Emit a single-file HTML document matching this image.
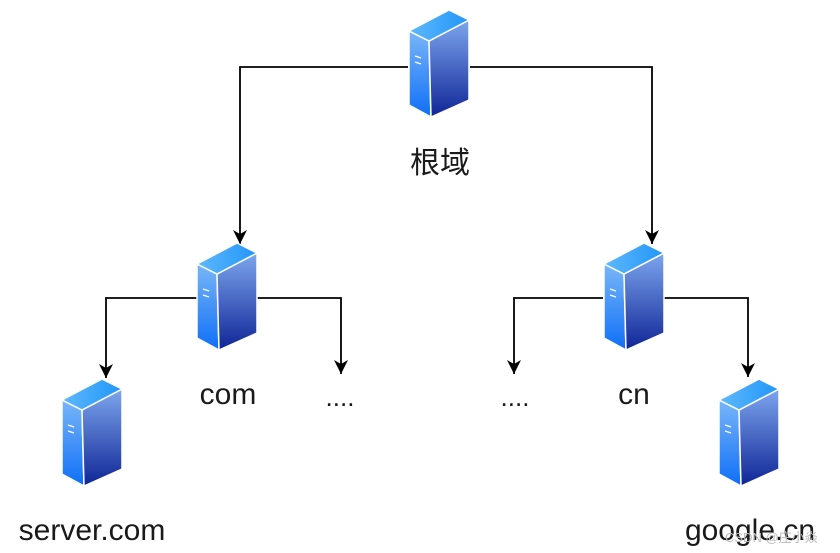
<!DOCTYPE html>
<html><head><meta charset="utf-8"><style>
body{margin:0;background:#fff;width:840px;height:553px;overflow:hidden}
svg{display:block}
text{font-family:"Liberation Sans","Noto Sans CJK SC",sans-serif;fill:#1a1a1a}
</style></head><body>
<svg width="840" height="553" viewBox="0 0 840 553">
<defs>
<linearGradient id="gl" x1="0" y1="0" x2="0" y2="1"><stop offset="0" stop-color="#79b6f8"/><stop offset="1" stop-color="#0f6ff8"/></linearGradient>
<linearGradient id="gr" x1="0" y1="0" x2="0" y2="1"><stop offset="0" stop-color="#7ea6ee"/><stop offset="1" stop-color="#0f2596"/></linearGradient>
<linearGradient id="gt" x1="0" y1="0" x2="1" y2="0"><stop offset="0" stop-color="#5fb8fd"/><stop offset="1" stop-color="#2196f8"/></linearGradient>
<g id="srv">
<polygon points="0,21 20,31 22,107 0,95" fill="url(#gl)" stroke="#fff" stroke-width="1.5"/>
<polygon points="20,31 60,10 60,90 22,107" fill="url(#gr)" stroke="#fff" stroke-width="1.5"/>
<polygon points="0,21 40,0 60,10 20,31" fill="url(#gt)" stroke="#fff" stroke-width="1.5"/>
<line x1="6" y1="46" x2="12" y2="48" stroke="#fff" stroke-width="1.2"/>
<line x1="6" y1="52" x2="12" y2="54" stroke="#fff" stroke-width="1.2"/>
</g>
<marker id="ar" markerWidth="16" markerHeight="16" refX="14" refY="7" orient="auto" markerUnits="userSpaceOnUse"><path d="M0,0 L14,7 L0,14 L4,7 Z" fill="#000"/></marker>
</defs>
<g fill="none" stroke="#000" stroke-width="1.8">
<path d="M408,67 H240 V244" marker-end="url(#ar)"/>
<path d="M470,67 H652 V244" marker-end="url(#ar)"/>
<path d="M197,298 H106 V378" marker-end="url(#ar)"/>
<path d="M257,298 H341 V374" marker-end="url(#ar)"/>
<path d="M603,298 H514 V374" marker-end="url(#ar)"/>
<path d="M664,298 H748 V377" marker-end="url(#ar)"/>
</g>
<use href="#srv" transform="translate(409,10)"/>
<use href="#srv" transform="translate(197,243)"/>
<use href="#srv" transform="translate(604,243)"/>
<use href="#srv" transform="translate(62,379)"/>
<use href="#srv" transform="translate(719,379)"/>
<text x="440" y="173" font-size="30" text-anchor="middle">根域</text>
<text x="228" y="404" font-size="30" text-anchor="middle">com</text>
<text x="340" y="406" font-size="26" text-anchor="middle">....</text>
<text x="515" y="406" font-size="26" text-anchor="middle">....</text>
<text x="634" y="404" font-size="30" text-anchor="middle">cn</text>
<text x="92" y="540" font-size="30" text-anchor="middle">server.com</text>
<text x="750" y="540" font-size="30" text-anchor="middle">google.cn</text>
<text x="725" y="542" font-size="13" style="fill:#bbb">CSDN @庄小焱</text>
</svg>
</body></html>
